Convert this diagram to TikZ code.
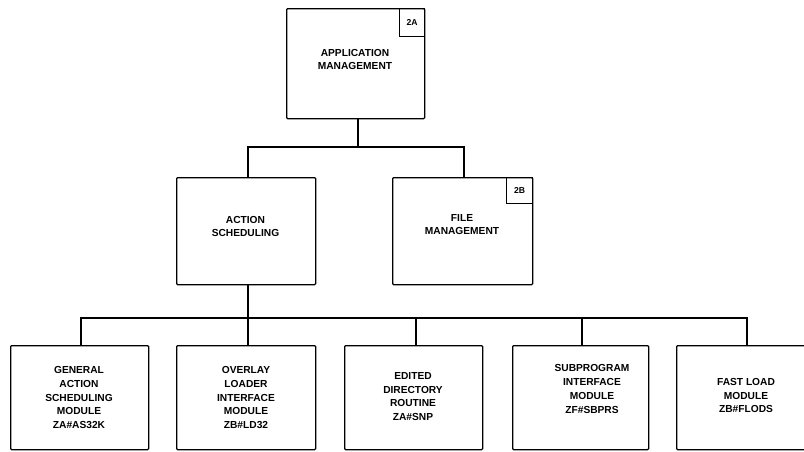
\documentclass[tikz,border=0pt]{standalone}
\usepackage{fontspec}
\setmainfont{Liberation Sans}
\usetikzlibrary{positioning}
\begin{document}
\begin{tikzpicture}[x=1pt,y=-1pt,
  box/.style={draw,line width=1.3pt,rounded corners=1pt,inner sep=0pt,anchor=north west},
  tag/.style={draw,line width=1.3pt,inner sep=0pt,anchor=north east,
    font=\fontsize{8.6}{10}\selectfont\bfseries},
  lbl/.style={align=center,inner sep=0pt,
    font=\fontsize{10.2}{13.8}\selectfont\bfseries},
  link/.style={line width=1.3pt}]
\useasboundingbox (0,0) rectangle (804,451);

% top level
\node[box,minimum width=138pt,minimum height=110pt] (app) at (286,8) {};
\node[tag,minimum width=25pt,minimum height=28pt] (tA) at (app.north east) {2A};
\node[lbl] (appT) at (355,59.5) {APPLICATION\\MANAGEMENT};

% second level
\node[box,minimum width=139pt,minimum height=107pt] (act) at (176,177) {};
\node[lbl] (actT) at (245.5,226.5) {ACTION\\SCHEDULING};
\node[box,minimum width=140pt,minimum height=107pt] (file) at (392,177) {};
\node[tag,minimum width=26pt,minimum height=26pt] (tB) at (file.north east) {2B};
\node[lbl] (fileT) at (462,224.5) {FILE\\MANAGEMENT};

% modules
\node[box,minimum width=138pt,minimum height=104pt] (m1) at (10,345) {};
\node[lbl] (m1T) at (79,397.5) {GENERAL\\ACTION\\SCHEDULING\\MODULE\\ZA\#AS32K};
\node[box,minimum width=139pt,minimum height=104pt] (m2) at (176,345) {};
\node[lbl] (m2T) at (246,397.5) {OVERLAY\\LOADER\\INTERFACE\\MODULE\\ZB\#LD32};
\node[box,minimum width=138pt,minimum height=104pt] (m3) at (344,345) {};
\node[lbl] (m3T) at (413,396.5) {EDITED\\DIRECTORY\\ROUTINE\\ZA\#SNP};
\node[box,minimum width=136pt,minimum height=104pt] (m4) at (512,345) {};
\node[lbl] (m4T) at (592,389) {SUBPROGRAM\\INTERFACE\\MODULE\\ZF\#SBPRS};
\node[box,minimum width=138pt,minimum height=104pt] (m5) at (676,345) {};
\node[lbl] (m5T) at (746,395.5) {FAST LOAD\\MODULE\\ZB\#FLODS};

% connectors
\coordinate (j1) at (358,147);
\coordinate (j2) at (248,318);
\draw[link] (app.south -| j1) -- (j1);
\draw[link] (act.north -| 248,0) |- (j1) -| (file.north -| 464,0);
\draw[link] (act.south -| j2) -- (m2.north -| j2);
\draw[link] (m1.north -| 81,0) |- (j2) -| (m5.north -| 747,0);
\draw[link] (m3.north -| 416,0) -- (416,318);
\draw[link] (m4.north -| 582,0) -- (582,318);
\end{tikzpicture}
\end{document}
